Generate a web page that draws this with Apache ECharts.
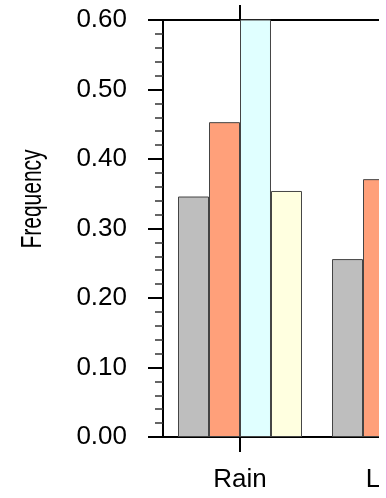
<!DOCTYPE html>
<html>
<head>
<meta charset="utf-8">
<script src="https://cdn.jsdelivr.net/npm/echarts@6/dist/echarts.min.js"></script>
<style>
  html, body { margin: 0; padding: 0; background: #fff; }
  #wrap { position: relative; width: 387px; height: 498px; overflow: hidden; }
  /* the reference is a crop: the plot is cut at x = 379 */
  #clip { position: absolute; left: 0; top: 0; width: 379px; height: 498px; overflow: hidden; }
  #chart { position: absolute; left: 0; top: 0; width: 560px; height: 498px; }
  #edge { position: absolute; left: 386px; top: 0; width: 1px; height: 498px; background: #f0a8d8; }
</style>
</head>
<body>
<div id="wrap">
  <div id="clip"><div id="chart"></div></div>
  <div id="edge"></div>
</div>
<script>
// categories along x (the second one is cut off at the right edge)
const categories = ['Rain', 'Light'];
const yTicks = { min: 0, max: 0.6, interval: 0.1 };
const yTitle = 'Frequency';

// one array per bar colour; values past the crop are not visible -> null
const grayVals = [0.346, 0.256];
const salmonVals = [0.453, 0.371];
const cyanVals = [0.65, null];     // first bar runs off the top of the plot
const yellowVals = [0.354, null];

const colors = ['#bebebe', '#ffa07a', '#e0ffff', '#ffffe0'];
const seriesData = [grayVals, salmonVals, cyanVals, yellowVals];

const chart = echarts.init(document.getElementById('chart'));

const fontFamily = '"Liberation Sans", Arial, Helvetica, sans-serif';
const axisLine = { show: true, lineStyle: { color: '#000', width: 2 } };
const catTick = { show: true, interval: 0, alignWithLabel: true, length: 15, lineStyle: { color: '#000', width: 2 } };

const option = {
    animation: false,
    // y title: the original font is narrower than Liberation Sans, so squeeze it
    graphic: [
        {
            type: 'text',
            x: 33,
            y: 199,
            rotation: Math.PI / 2,
            scaleX: 0.7,
            style: {
                text: yTitle,
                fill: '#000',
                font: '30px ' + fontFamily,
                align: 'center',
                verticalAlign: 'middle',
            },
        },
    ],
    grid: {
        left: 163,
        top: 20,
        bottom: 61,
        right: 89,
    },
    xAxis: [
        {
            type: 'category',
            data: categories,
            position: 'bottom',
            axisLine: axisLine,
            axisTick: catTick,
            axisLabel: { color: '#000', fontSize: 26, fontFamily: fontFamily, margin: 30, interval: 0 },
        },
        {
            type: 'category',
            data: categories,
            position: 'top',
            axisLine: axisLine,
            axisTick: catTick,
            axisLabel: { show: true, interval: 0, color: 'rgba(0,0,0,0)' },
        },
    ],
    yAxis: {
        type: 'value',
        min: yTicks.min,
        max: yTicks.max,
        interval: yTicks.interval,
        axisLine: axisLine,
        axisTick: { show: true, length: 15, lineStyle: { color: '#000', width: 2 } },
        minorTick: { show: true, splitNumber: 5, length: 8, lineStyle: { color: '#333', width: 1.5 } },
        splitLine: { show: false },
        axisLabel: {
            color: '#000',
            fontSize: 26,
            fontFamily: fontFamily,
            margin: 36,
            formatter: (v) => v.toFixed(2),
        },
    },
    series: seriesData.map((vals, i) => ({
        name: 'S' + (i + 1),
        type: 'bar',
        data: vals,
        barGap: 0,
        barCategoryGap: '19.5%',
        clip: true,
        itemStyle: { color: colors[i], borderColor: '#444', borderWidth: 1 },
    })),
};

chart.setOption(option);
</script>
</body>
</html>
